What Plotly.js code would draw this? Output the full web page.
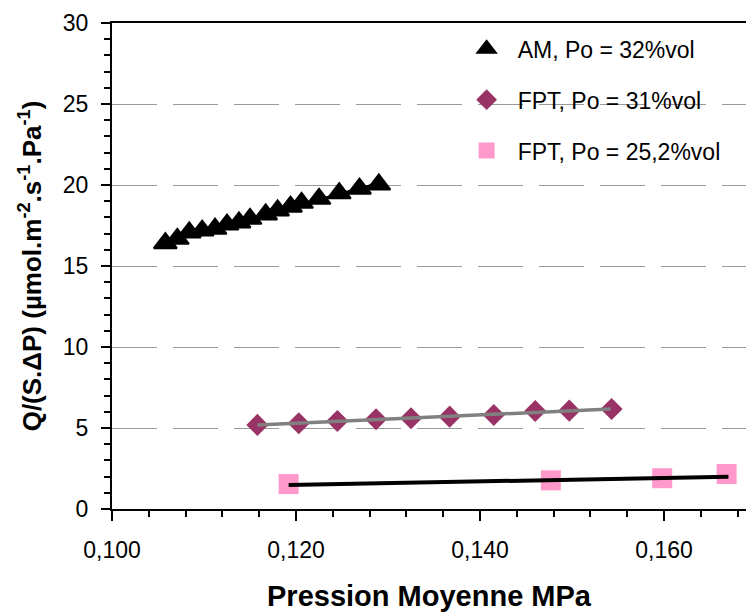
<!DOCTYPE html>
<html>
<head>
<meta charset="utf-8">
<script src="https://cdn.plot.ly/plotly-3.0.1.min.js"></script>
<style>html,body{margin:0;padding:0;background:#fff;overflow:hidden;}</style>
</head>
<body>
<div id="chart" style="width:746px;height:612px;"></div>
<script>
// Series: AM, Po = 32%vol
const amX = [0.1058, 0.1071, 0.1084, 0.1098, 0.1112, 0.1125, 0.1138, 0.1150, 0.1167, 0.1180, 0.1194, 0.1206, 0.1225, 0.1247, 0.1269, 0.1290];
const amY = [16.41, 16.68, 17.07, 17.19, 17.30, 17.56, 17.69, 17.91, 18.18, 18.43, 18.66, 18.90, 19.15, 19.49, 19.77, 20.03];
const amTrendX = [0.1058, 0.1290];
const amTrendY = [16.5, 20.1];

// Series: FPT, Po = 31%vol
const fpt31X = [0.1158, 0.1203, 0.1245, 0.1287, 0.1325, 0.1367, 0.1415, 0.1460, 0.1497, 0.1543];
const fpt31Y = [5.19, 5.29, 5.43, 5.54, 5.60, 5.70, 5.80, 6.05, 6.07, 6.17];
const fpt31TrendX = [0.1158, 0.1542];
const fpt31TrendY = [5.19, 6.17];

// Series: FPT, Po = 25,2%vol
const fpt25X = [0.1192, 0.1477, 0.1598, 0.1668];
const fpt25Y = [1.54, 1.77, 1.90, 2.16];
const fpt25TrendX = [0.1192, 0.1670];
const fpt25TrendY = [1.48, 1.99];

const seriesNames = ["AM, Po = 32%vol", "FPT, Po = 31%vol", "FPT, Po = 25,2%vol"];
const yTickVals = [0, 5, 10, 15, 20, 25, 30];
const xTickVals = [0.100, 0.120, 0.140, 0.160];

const FONT = '"Liberation Sans", Arial, sans-serif';

const traces = [
  {x: amX, y: amY, type: 'scatter', mode: 'markers', name: seriesNames[0], legendgroup: 'a',
   marker: {symbol: 'triangle-up', size: 20, color: '#000000', line: {color: '#000000', width: 2}}},
  {x: fpt31X, y: fpt31Y, type: 'scatter', mode: 'markers', name: seriesNames[1], legendgroup: 'b',
   marker: {symbol: 'diamond', size: 17, color: '#993366', line: {width: 0}}},
  {x: fpt25X, y: fpt25Y, type: 'scatter', mode: 'markers', name: seriesNames[2], legendgroup: 'c',
   marker: {symbol: 'square', size: 20, color: '#FF99CC', line: {width: 0}}},
  {x: amTrendX, y: amTrendY, type: 'scatter', mode: 'lines', showlegend: false, hoverinfo: 'skip',
   line: {color: '#000000', width: 3}},
  {x: fpt31TrendX, y: fpt31TrendY, type: 'scatter', mode: 'lines', showlegend: false, hoverinfo: 'skip',
   line: {color: '#808080', width: 3.5}},
  {x: fpt25TrendX, y: fpt25TrendY, type: 'scatter', mode: 'lines', showlegend: false, hoverinfo: 'skip',
   line: {color: '#000000', width: 4}}
];

const layout = {
  width: 746, height: 612,
  margin: {l: 112, r: 0, t: 23, b: 103, pad: 0},
  paper_bgcolor: '#ffffff', plot_bgcolor: '#ffffff',
  separators: ', ',
  font: {family: FONT, color: '#000000', size: 23},
  showlegend: true,
  legend: {
    x: 0.542, y: 0.991, xanchor: 'left', yanchor: 'top',
    bgcolor: 'rgba(0,0,0,0)', borderwidth: 0,
    font: {family: FONT, size: 23, color: '#000000'},
    itemwidth: 52, traceorder: 'grouped', tracegroupgap: 18
  },
  xaxis: {
    range: [0.1, 0.16891], autorange: false,
    tickmode: 'array', tickvals: xTickVals, tickformat: '.3f',
    ticks: 'outside', ticklen: 10, tickwidth: 2, tickcolor: '#000000',
    minor: {dtick: 0.004, tick0: 0.1, ticks: 'outside', ticklen: 6, tickwidth: 2, tickcolor: '#000000', showgrid: false},
    showline: true, linecolor: '#000000', linewidth: 2, mirror: true,
    showgrid: false, zeroline: false,
    tickfont: {family: FONT, size: 23, color: '#000000'},
    ticklabelstandoff: 9,
    title: {text: 'Pression Moyenne MPa', font: {family: FONT, size: 29, color: '#000000', weight: 'bold'}, standoff: 24}
  },
  yaxis: {
    range: [0, 30], autorange: false,
    tickmode: 'array', tickvals: yTickVals,
    ticks: 'outside', ticklen: 9, tickwidth: 2, tickcolor: '#000000',
    minor: {dtick: 1, tick0: 0, ticks: 'outside', ticklen: 6, tickwidth: 2, tickcolor: '#000000', showgrid: false},
    showline: true, linecolor: '#000000', linewidth: 2,
    showgrid: true, gridcolor: '#9a9a9a', gridwidth: 1, griddash: '45px,16px',
    zeroline: false,
    tickfont: {family: FONT, size: 23, color: '#000000'},
    ticklabelstandoff: 8,
    title: {text: 'Q/(S.ΔP) (µmol.m<sup>-2</sup>.s<sup>-1</sup>.Pa<sup>-1</sup>)', font: {family: FONT, size: 26, color: '#000000', weight: 'bold'}, standoff: 14}
  }
};

Plotly.newPlot('chart', traces, layout, {staticPlot: true, displayModeBar: false});
</script>
</body>
</html>
